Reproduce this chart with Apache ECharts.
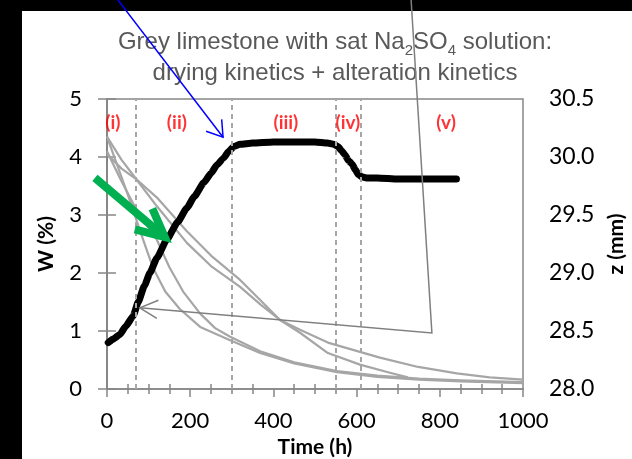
<!DOCTYPE html>
<html>
<head>
<meta charset="utf-8">
<script src="https://cdn.jsdelivr.net/npm/echarts@6/dist/echarts.min.js"></script>
<style>
  html, body { margin: 0; padding: 0; background: #ffffff; }
  #chart { width: 632px; height: 459px; }
</style>
</head>
<body>
<div id="chart"></div>
<script>
// ---- drying kinetics: water content W (%) vs time (h), four samples ----
const s1Time = [0, 35, 70, 120, 192, 250, 320, 370, 416, 464, 531, 608, 656, 748, 841, 920, 1000];
const s1W    = [4.05, 3.8, 3.62, 3.15, 2.52, 2.12, 1.76, 1.45, 1.19, 1.02, 0.8, 0.64, 0.54, 0.38, 0.27, 0.2, 0.16];

const s2Time = [0, 35, 70, 120, 192, 250, 320, 370, 416, 464, 531, 608, 680, 723];
const s2W    = [4.35, 3.95, 3.62, 3.3, 2.72, 2.3, 1.88, 1.52, 1.19, 0.97, 0.62, 0.42, 0.28, 0.2];

const f1Time = [0, 20, 50, 87, 110, 140, 175, 224, 296, 368, 450, 553, 650, 750, 850, 1000];
const f1W    = [4.35, 3.95, 3.35, 2.57, 2.1, 1.68, 1.38, 1.07, 0.84, 0.62, 0.44, 0.29, 0.21, 0.16, 0.13, 0.1];

const f2Time = [0, 30, 70, 120, 150, 183, 224, 260, 296, 368, 450, 553, 650, 750, 850, 1000];
const f2W    = [4.1, 3.65, 3.1, 2.57, 2.1, 1.68, 1.3, 1.05, 0.9, 0.65, 0.46, 0.31, 0.23, 0.18, 0.15, 0.12];

// ---- alteration kinetics: sample height z (mm) vs time (h) ----
const zTime = [3, 15, 31, 45, 63, 75, 90, 103, 120, 144, 170, 192, 210, 233, 250, 264, 280, 293, 305, 320,
               350, 400, 450, 500, 530, 545, 555, 565, 572, 580, 589, 597, 604, 612, 624, 650, 700, 750, 800, 840];
const zVal  = [28.40, 28.43, 28.47, 28.54, 28.63, 28.75, 28.89, 29.0, 29.13, 29.29, 29.44, 29.56, 29.66, 29.78, 29.86, 29.93, 29.99, 30.05, 30.09, 30.11,
               30.12, 30.13, 30.13, 30.13, 30.12, 30.11, 30.09, 30.05, 30.02, 29.97, 29.94, 29.89, 29.85, 29.83, 29.82, 29.82, 29.81, 29.81, 29.81, 29.81];

// ---- stage boundaries and stage labels ----
const stageBounds = [70, 300, 550, 610];
const stageNames  = ['(i)', '(ii)', '(iii)', '(iv)', '(v)'];
const stageTime   = [14, 168, 430, 579, 815];
const stageLevel  = [4.59, 4.59, 4.59, 4.59, 4.59];

// ---- axis scales ----
const timeMin = 0, timeMax = 1000, timeStep = 200;
const wMin = 0, wMax = 5, wStep = 1;
const zMin = 28.0, zMax = 30.5, zStep = 0.5;

// ---- annotation arrows, in (time, W) coordinates ----
const blueArrow  = [[26, 6.71], [279, 4.34]];
const greyArrow  = [[731, 6.71], [781, 0.966], [79, 1.40]];
const greenArrow = [[-29, 3.64], [139, 2.62]];

const pairs = (xs, ys) => xs.map((x, i) => [x, ys[i]]);

const AXIS = '#868686';
const CURVE = '#a6a6a6';
const FONT = 'Lato, "Noto Sans", sans-serif';

function wSeries(xs, ys) {
  return {
    type: 'line', xAxisIndex: 0, yAxisIndex: 0,
    data: pairs(xs, ys), showSymbol: false, symbol: 'none',
    lineStyle: { color: CURVE, width: 2.2, join: 'round' }, z: 3, silent: true
  };
}

const chart = echarts.init(document.getElementById('chart'));

const bands = [
  { type: 'rect', id: 'bandLeft', shape: { x: 0, y: 0, width: 22, height: 459 }, style: { fill: '#000' }, z: -10, silent: true },
  { type: 'rect', id: 'bandTop', shape: { x: 0, y: 0, width: 632, height: 11 }, style: { fill: '#000' }, z: -10, silent: true },
  {
    type: 'text', id: 'title', x: 335, y: 27, z: 5, silent: true,
    style: {
      text: 'Grey limestone with sat Na{sub|2}SO{sub|4} solution:\ndrying kinetics + alteration kinetics',
      fill: '#595959', fontFamily: '"Liberation Sans", Arial, sans-serif', fontSize: 24,
      lineHeight: 31, align: 'center', verticalAlign: 'top',
      rich: {
        sub: { fontSize: 15, fill: '#595959', fontFamily: '"Liberation Sans", Arial, sans-serif', verticalAlign: 'bottom', lineHeight: 22 }
      }
    }
  }
];

const option = {
  animation: false,
  backgroundColor: '#ffffff',
  grid: {
    left: 107, right: 109, top: 99, bottom: 70,
    containLabel: false, outerBoundsMode: 'none',
    show: true, borderColor: AXIS, borderWidth: 1.5
  },
  xAxis: [
    {
      type: 'value', min: timeMin, max: timeMax, interval: timeStep, position: 'bottom',
      name: 'Time (h)', nameLocation: 'middle', nameGap: 46,
      nameTextStyle: { fontFamily: FONT, fontSize: 21, fontWeight: 'bold', color: '#000' },
      axisLine: { lineStyle: { color: AXIS, width: 1.5 } },
      axisTick: { show: true, inside: false, length: 8, lineStyle: { color: AXIS, width: 1.5 } },
      minorTick: { show: true, splitNumber: 4, length: 5, lineStyle: { color: AXIS, width: 1.5 } },
      axisLabel: { fontFamily: FONT, fontSize: 22, color: '#000', margin: 21, formatter: v => String(v) },
      splitLine: { show: false }
    },
    {
      type: 'value', min: timeMin, max: timeMax, interval: timeStep, position: 'bottom',
      axisLine: { show: false },
      axisTick: { show: false, inside: true },
      minorTick: { show: true, splitNumber: 4, length: 5, lineStyle: { color: AXIS, width: 1.5 } },
      axisLabel: { show: false },
      splitLine: { show: false }
    }
  ],
  yAxis: [
    {
      type: 'value', min: wMin, max: wMax, interval: wStep, position: 'left',
      name: 'W (%)', nameLocation: 'middle', nameGap: 50, nameRotate: 90,
      nameTextStyle: { fontFamily: FONT, fontSize: 21, fontWeight: 'bold', color: '#000' },
      axisLine: { show: true, lineStyle: { color: AXIS, width: 1.5 } },
      axisTick: { show: true, inside: false, length: 9, lineStyle: { color: AXIS, width: 1.5 } },
      axisLabel: { fontFamily: FONT, fontSize: 22, color: '#000', margin: 25 },
      splitLine: { show: false }
    },
    {
      type: 'value', min: zMin, max: zMax, interval: zStep, position: 'right',
      name: 'z (mm)', nameLocation: 'middle', nameGap: 82, nameRotate: 90,
      nameTextStyle: { fontFamily: FONT, fontSize: 21, fontWeight: 'bold', color: '#000' },
      axisLine: { show: true, lineStyle: { color: AXIS, width: 1.5 } },
      axisTick: { show: true, inside: false, length: 9, lineStyle: { color: AXIS, width: 1.5 } },
      axisLabel: { fontFamily: FONT, fontSize: 23, color: '#000', margin: 26, formatter: v => v.toFixed(1) },
      splitLine: { show: false }
    }
  ],
  series: [
    wSeries(s1Time, s1W),
    wSeries(s2Time, s2W),
    wSeries(f1Time, f1W),
    wSeries(f2Time, f2W),
    {
      type: 'line', xAxisIndex: 0, yAxisIndex: 1, data: pairs(zTime, zVal),
      showSymbol: false, symbol: 'none', z: 4, silent: true,
      smooth: 0.15, smoothMonotone: 'x',
      lineStyle: { color: '#000', width: 7, cap: 'round', join: 'round' }
    },
    {
      type: 'scatter', xAxisIndex: 0, yAxisIndex: 0, z: 6, silent: true,
      data: stageNames.map((n, i) => ({ name: n, value: [stageTime[i], stageLevel[i]] })),
      symbolSize: 1, itemStyle: { color: 'rgba(0,0,0,0)' },
      label: {
        show: true, position: 'inside', formatter: p => p.name,
        color: '#ff0000', fontFamily: FONT, fontWeight: 'bold', fontSize: 19
      },
      markLine: {
        silent: true, symbol: ['none', 'none'], label: { show: false },
        lineStyle: { color: '#a6a6a6', width: 2, type: [5, 4] },
        data: stageBounds.map(t => ({ xAxis: t }))
      }
    }
  ],
  graphic: bands
};

chart.setOption(option);

// ---- arrows drawn through the chart's own coordinate conversion ----
const toPx = p => chart.convertToPixel({ seriesIndex: 0 }, p);

function arms(tip, from, len, deg) {
  const dx = tip[0] - from[0], dy = tip[1] - from[1];
  const d = Math.hypot(dx, dy);
  const ux = dx / d, uy = dy / d;
  const a = deg * Math.PI / 180;
  const rot = s => [
    tip[0] - len * (ux * Math.cos(s * a) - uy * Math.sin(s * a)),
    tip[1] - len * (ux * Math.sin(s * a) + uy * Math.cos(s * a))
  ];
  return [rot(1), tip, rot(-1)];
}

function arrowEls(id, pts, color, width, headLen, headDeg) {
  const px = pts.map(toPx);
  const tip = px[px.length - 1], prev = px[px.length - 2];
  return [
    { type: 'polyline', id: id + 'Shaft', z: 100, silent: true, shape: { points: px },
      style: { stroke: color, lineWidth: width, fill: null, lineJoin: 'miter' } },
    { type: 'polyline', id: id + 'Head', z: 100, silent: true, shape: { points: arms(tip, prev, headLen, headDeg) },
      style: { stroke: color, lineWidth: width, fill: null, lineJoin: 'miter', lineCap: 'butt' } }
  ];
}

chart.setOption({
  graphic: bands.concat(
    arrowEls('blue', blueArrow, '#0000ff', 1.5, 18, 33),
    arrowEls('grey', greyArrow, '#7f7f7f', 1.5, 20, 27),
    arrowEls('green', greenArrow, '#00b050', 8, 31, 26)
  )
});
</script>
</body>
</html>
